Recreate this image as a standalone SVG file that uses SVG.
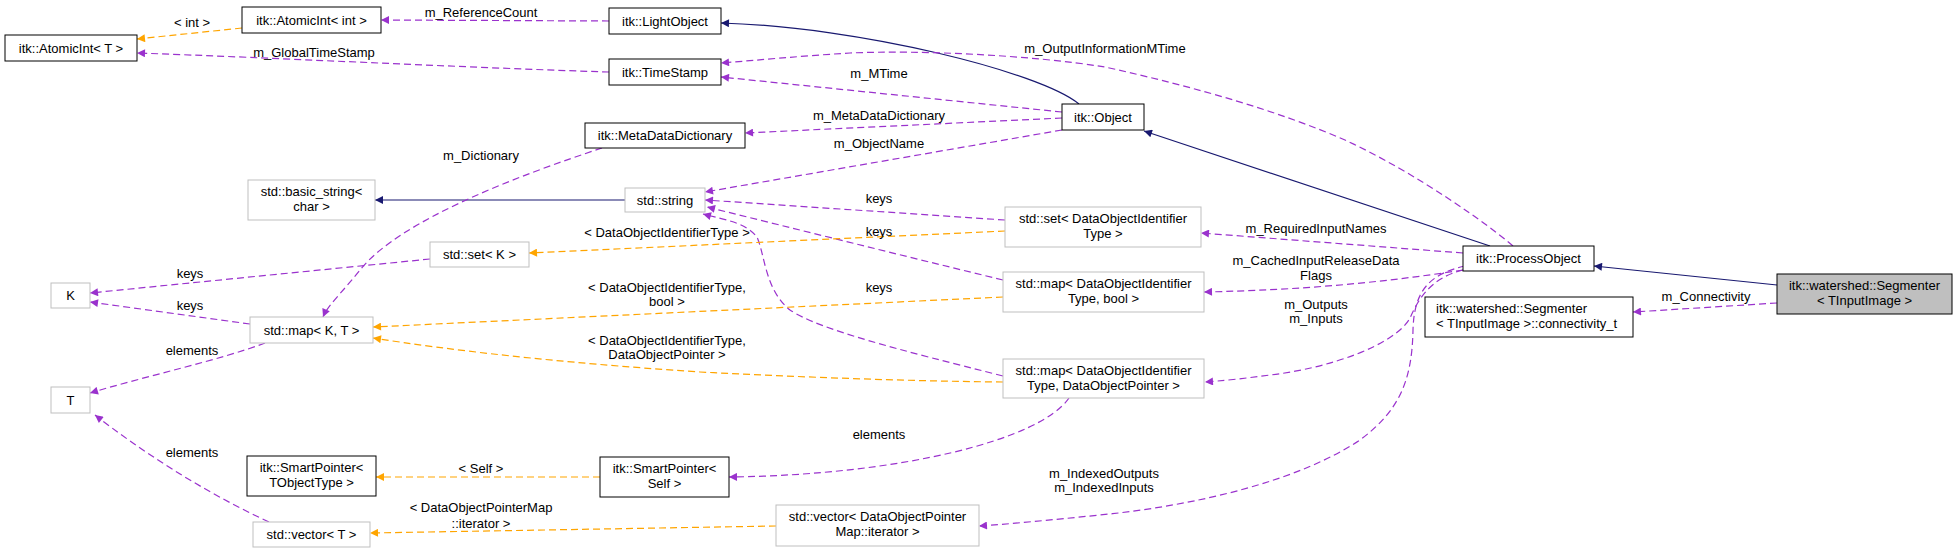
<svg xmlns="http://www.w3.org/2000/svg" width="1957" height="553" viewBox="0 0 1957 553">
<style>
text{font-family:"Liberation Sans",Arial,sans-serif;font-size:13px;fill:#000}
.n text{text-anchor:middle}
.b{fill:#fff;stroke:#000;stroke-width:1}
.g{fill:#fff;stroke:#bfbfbf;stroke-width:1}
.s{fill:#bfbfbf;stroke:#000;stroke-width:1}
.lbl text{text-anchor:middle}
.inh{fill:none;stroke:#191970;stroke-width:1.2;marker-end:url(#aN)}
.use{fill:none;stroke:#9a32cd;stroke-width:1.2;stroke-dasharray:7,4;marker-end:url(#aP)}
.tpl{fill:none;stroke:#ffa500;stroke-width:1.2;stroke-dasharray:7,4;marker-end:url(#aO)}
</style>
<defs>
<marker id="aN" viewBox="0 0 10 10" refX="10" refY="5" markerUnits="userSpaceOnUse" markerWidth="11" markerHeight="8" orient="auto"><path d="M0,0L10,5L0,10z" fill="#191970"/></marker>
<marker id="aP" viewBox="0 0 10 10" refX="10" refY="5" markerUnits="userSpaceOnUse" markerWidth="11" markerHeight="8" orient="auto"><path d="M0,0L10,5L0,10z" fill="#9a32cd"/></marker>
<marker id="aO" viewBox="0 0 10 10" refX="10" refY="5" markerUnits="userSpaceOnUse" markerWidth="11" markerHeight="8" orient="auto"><path d="M0,0L10,5L0,10z" fill="#ffa500"/></marker>
</defs>
<rect width="1957" height="553" fill="#fff"/>
<g id="connectors">
<path class="inh" d="M1079,104 C1040,72 860,27 721,23"/>
<path class="inh" d="M1490,246 L1144,131"/>
<path class="inh" d="M1777,285 L1594,266"/>
<path class="inh" d="M625,200 L375,200"/>
<path class="use" d="M609,21 L381,20"/>
<path class="use" d="M609,72 C450,67 280,58 137,53"/>
<path class="use" d="M1513,246 C1490,226 1420,175 1345,140 C1280,112 1200,88 1105,67 C1030,55 920,50 850,53 C800,56 760,60 721,63"/>
<path class="use" d="M1062,112 L721,77"/>
<path class="use" d="M1062,118 L745,133"/>
<path class="use" d="M1062,130 L705,192"/>
<path class="use" d="M602,148 C520,175 400,220 360,270 C340,295 328,305 323,317"/>
<path class="use" d="M1005,220 L705,200"/>
<path class="use" d="M1003,280 C900,255 800,230 707,207"/>
<path class="use" d="M1003,376 C900,350 820,330 790,310 C765,290 765,255 757,237 C745,222 725,220 703,214"/>
<path class="tpl" d="M1005,231 L529,253"/>
<path class="tpl" d="M1003,297 L373,327"/>
<path class="tpl" d="M1003,382 C900,381 800,377 700,372 C550,362 450,350 373,338"/>
<path class="tpl" d="M242,28 L137,39"/>
<path class="use" d="M430,259 L90,293"/>
<path class="use" d="M250,324 L90,302"/>
<path class="use" d="M265,343 C220,360 150,375 90,393"/>
<path class="use" d="M269,522 C200,490 140,450 95,415"/>
<path class="use" d="M1069,398 C1040,440 900,475 729,477"/>
<path class="tpl" d="M600,477 L376,477"/>
<path class="tpl" d="M776,526 L370,533"/>
<path class="use" d="M1463,253 L1201,233"/>
<path class="use" d="M1463,270 C1380,283 1300,290 1204,292"/>
<path class="use" d="M1463,270 C1430,278 1418,300 1410,318 C1395,345 1330,368 1270,375 C1240,379 1220,381 1205,382"/>
<path class="use" d="M1465,266 C1430,274 1414,290 1413,330 C1412,380 1400,410 1360,440 C1300,480 1200,505 1100,515 C1050,520 1010,524 979,526"/>
<path class="use" d="M1777,303 L1633,312"/>
</g>
<g class="lbl">
<text x="192" y="27">&lt; int &gt;</text>
<text x="481" y="16.5">m_ReferenceCount</text>
<text x="314" y="56.5">m_GlobalTimeStamp</text>
<text x="1105" y="52.5">m_OutputInformationMTime</text>
<text x="879" y="77.5">m_MTime</text>
<text x="879" y="119.5">m_MetaDataDictionary</text>
<text x="481" y="159.5">m_Dictionary</text>
<text x="879" y="147.5">m_ObjectName</text>
<text x="879" y="202.5">keys</text>
<text x="879" y="235.5">keys</text>
<text x="667" y="236.5">&lt; DataObjectIdentifierType &gt;</text>
<text x="1316" y="232.5">m_RequiredInputNames</text>
<text x="1316" y="264.5">m_CachedInputReleaseData</text>
<text x="1316" y="279.5">Flags</text>
<text x="190" y="277.5">keys</text>
<text x="190" y="309.5">keys</text>
<text x="667" y="291.5">&lt; DataObjectIdentifierType,</text>
<text x="667" y="305.5">bool &gt;</text>
<text x="879" y="291.5">keys</text>
<text x="1316" y="308.5">m_Outputs</text>
<text x="1316" y="322.5">m_Inputs</text>
<text x="1706" y="300.5">m_Connectivity</text>
<text x="667" y="344.5">&lt; DataObjectIdentifierType,</text>
<text x="667" y="358.5">DataObjectPointer &gt;</text>
<text x="192" y="354.5">elements</text>
<text x="879" y="438.5">elements</text>
<text x="192" y="456.5">elements</text>
<text x="481" y="472.5">&lt; Self &gt;</text>
<text x="1104" y="477.5">m_IndexedOutputs</text>
<text x="1104" y="491.5">m_IndexedInputs</text>
<text x="481" y="511.5">&lt; DataObjectPointerMap</text>
<text x="481" y="527.5">::iterator &gt;</text>
</g>
<g id="n1" class="n"><rect class="b" x="5" y="35" width="132" height="26"/><text x="71" y="52.5">itk::AtomicInt&lt; T &gt;</text></g>
<g id="n2" class="n"><rect class="b" x="242" y="7" width="139" height="26"/><text x="311.5" y="24.5">itk::AtomicInt&lt; int &gt;</text></g>
<g id="n3" class="n"><rect class="b" x="609" y="8" width="112" height="26"/><text x="665" y="25.5">itk::LightObject</text></g>
<g id="n4" class="n"><rect class="b" x="609" y="59" width="112" height="26"/><text x="665" y="76.5">itk::TimeStamp</text></g>
<g id="n5" class="n"><rect class="b" x="585" y="123" width="160" height="25"/><text x="665" y="140">itk::MetaDataDictionary</text></g>
<g id="n6" class="n"><rect class="b" x="1062" y="104" width="82" height="26"/><text x="1103" y="121.5">itk::Object</text></g>
<g id="n7" class="n"><rect class="g" x="248" y="180" width="127" height="40"/><text x="311.5" y="195.5">std::basic_string&lt;</text><text x="311.5" y="210.5">char &gt;</text></g>
<g id="n8" class="n"><rect class="g" x="625" y="188" width="80" height="24"/><text x="665" y="204.5">std::string</text></g>
<g id="n9" class="n"><rect class="g" x="1005" y="207" width="196" height="40"/><text x="1103" y="222.5">std::set&lt; DataObjectIdentifier</text><text x="1103" y="237.5">Type &gt;</text></g>
<g id="n10" class="n"><rect class="g" x="430" y="242" width="99" height="25"/><text x="479.5" y="259">std::set&lt; K &gt;</text></g>
<g id="n11" class="n"><rect class="g" x="1003" y="272" width="201" height="40"/><text x="1103.5" y="287.5">std::map&lt; DataObjectIdentifier</text><text x="1103.5" y="302.5">Type, bool &gt;</text></g>
<g id="n12" class="n"><rect class="b" x="1463" y="246" width="131" height="25"/><text x="1528.5" y="263">itk::ProcessObject</text></g>
<g id="n13" class="n"><rect class="s" x="1777" y="274" width="175" height="40"/><text x="1864.5" y="289.5">itk::watershed::Segmenter</text><text x="1864.5" y="304.5">&lt; TInputImage &gt;</text></g>
<g id="n14"><rect class="b" x="1425" y="297" width="208" height="40"/><text x="1436" y="312.5">itk::watershed::Segmenter</text><text x="1436" y="327.5">&lt; TInputImage &gt;::connectivity_t</text></g>
<g id="n15" class="n"><rect class="g" x="51" y="283" width="39" height="25"/><text x="70.5" y="300">K</text></g>
<g id="n16" class="n"><rect class="g" x="250" y="317" width="123" height="26"/><text x="311.5" y="334.5">std::map&lt; K, T &gt;</text></g>
<g id="n17" class="n"><rect class="g" x="51" y="387" width="39" height="26"/><text x="70.5" y="404.5">T</text></g>
<g id="n18" class="n"><rect class="g" x="1003" y="359" width="201" height="39"/><text x="1103.5" y="374.5">std::map&lt; DataObjectIdentifier</text><text x="1103.5" y="389.5">Type, DataObjectPointer &gt;</text></g>
<g id="n19" class="n"><rect class="b" x="247" y="456" width="129" height="40"/><text x="311.5" y="471.5">itk::SmartPointer&lt;</text><text x="311.5" y="486.5">TObjectType &gt;</text></g>
<g id="n20" class="n"><rect class="b" x="600" y="457" width="129" height="40"/><text x="664.5" y="472.5">itk::SmartPointer&lt;</text><text x="664.5" y="487.5">Self &gt;</text></g>
<g id="n21" class="n"><rect class="g" x="253" y="522" width="117" height="25"/><text x="311.5" y="539">std::vector&lt; T &gt;</text></g>
<g id="n22" class="n"><rect class="g" x="776" y="505" width="203" height="41"/><text x="877.5" y="521">std::vector&lt; DataObjectPointer</text><text x="877.5" y="536">Map::iterator &gt;</text></g>
</svg>
